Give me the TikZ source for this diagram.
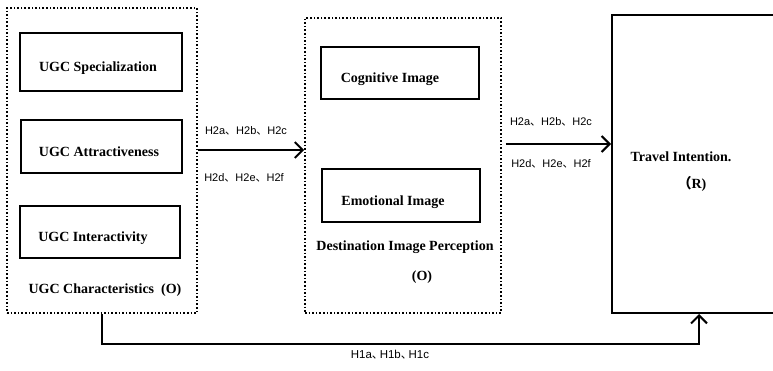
\documentclass[tikz,border=0pt]{standalone}
\usepackage{fontspec}
\setmainfont{Liberation Serif}
\newfontfamily\hsans{Liberation Sans}
\newfontfamily\cjk{Noto Sans CJK SC}
\usetikzlibrary{arrows.meta}
\newcommand{\dn}{{\cjk 、}}
\newcommand{\dnn}{\makebox[0.68em][l]{\cjk 、}}
\begin{document}
\begin{tikzpicture}[x=1pt,y=-1pt,
  grp/.style={draw, dotted, line width=1.6pt, inner sep=0pt},
  itembox/.style={draw, line width=2pt, inner sep=0pt},
  lbl/.style={font=\bfseries\fontsize{14}{16}\selectfont, inner sep=0pt},
  hlbl/.style={font=\hsans\fontsize{11}{13}\selectfont, inner sep=0pt},
  arr/.style={line width=2pt, -{Straight Barb[length=8pt,width=16pt,line width=2pt]}}]
\useasboundingbox (0,0) rectangle (773,371);
% groups
\node[grp, minimum width=190, minimum height=305] (ugcgroup) at (102,160.5) {};
\node[grp, minimum width=196, minimum height=295] (dip) at (403,165.5) {};
\node[draw, line width=2pt, minimum width=188, minimum height=298] (travel) at (706,164) {};
% items
\node[itembox, minimum width=162, minimum height=58] (spec) at (101,62) {};
\node[lbl] (spect) at (98,68) {UGC Specialization};
\node[itembox, minimum width=161, minimum height=53] (attr) at (101.5,146.5) {};
\node[lbl] (attrt) at (99,152) {UGC Attractiveness};
\node[itembox, minimum width=160, minimum height=52] (inter) at (100,232) {};
\node[lbl] (intert) at (93,238) {UGC Interactivity};
\node[itembox, minimum width=158, minimum height=52] (cog) at (400,73) {};
\node[lbl] (cogt) at (390,79) {Cognitive Image};
\node[itembox, minimum width=158, minimum height=53] (emo) at (401,195.5) {};
\node[lbl] (emot) at (393,202) {Emotional Image};
% group labels
\node[lbl] (ugclab) at (105,290) {UGC Characteristics\ \ (O)};
\node[lbl] (diplab) at (405,247) {Destination Image Perception};
\node[lbl] (dipo) at (422,277) {(O)};
\node[lbl] (travlab) at (681,157) {Travel Intention.};
\node[lbl] (travr) at (692,184) {{\cjk （}R)};
% arrows
\coordinate (a1) at (0,150);
\coordinate (a2) at (0,144);
\coordinate (t1) at (699,0);
\draw[arr] (ugcgroup.east |- a1) -- (dip.west |- a1);
\draw[arr, shorten <=4pt] (dip.east |- a2) -- (travel.west |- a2);
\draw[arr] (ugcgroup.south) -- ++(0,30) -| (travel.south -| t1);
% hypothesis labels
\node[hlbl] (h1) at (246,131) {H2a\dn H2b\dn H2c};
\node[hlbl] (h2) at (244,178) {H2d\dn H2e\dn H2f};
\node[hlbl] (h3) at (551,122) {H2a\dn H2b\dn H2c};
\node[hlbl] (h4) at (551,164) {H2d\dn H2e\dn H2f};
\node[hlbl, font=\hsans\fontsize{11.5}{13}\selectfont] (h5) at (390,355) {H1a\dnn H1b\dnn H1c};
\end{tikzpicture}
\end{document}
